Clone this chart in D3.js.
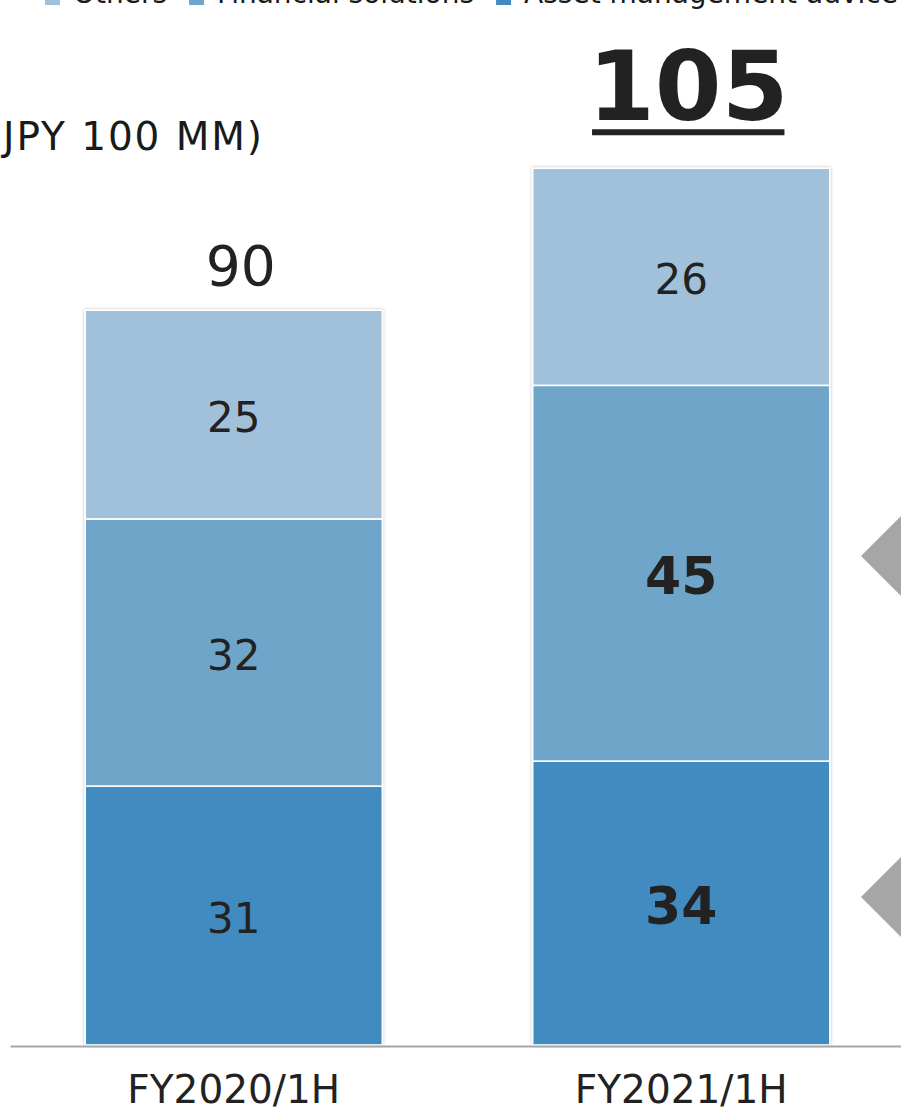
<!DOCTYPE html>
<html>
<head>
<meta charset="utf-8">
<script src="https://cdn.jsdelivr.net/npm/d3@7"></script>
<style>
  html, body { margin: 0; padding: 0; background: #fff; }
  svg { display: block; font-family: "DejaVu Sans", Verdana, sans-serif; }
</style>
</head>
<body>
<svg id="chart" width="901" height="1109"></svg>
<script>
// Half-year revenue breakdown (JPY 100 MM)
const categories = ["FY2020/1H", "FY2021/1H"];
const seriesNames = ["Asset management advice", "Financial solutions", "Others"];
const legendOrder = ["Others", "Financial solutions", "Asset management advice"];
const assetManagement = [31, 34];
const financialSolutions = [32, 45];
const others = [25, 26];
const totals = [90, 105];
const unitLabel = "(JPY 100 MM)";
// Series shown in bold for the latest period
const highlightPeriod = "FY2021/1H";
const highlightSeries = ["Asset management advice", "Financial solutions"];

const colors = {
  "Asset management advice": "#438bc0",
  "Financial solutions": "#6fa5ca",
  "Others": "#a1c1db"
};

const baseY = 1045;
const svg = d3.select("#chart");

const rows = categories.map((c, i) => ({
  category: c,
  "Asset management advice": assetManagement[i],
  "Financial solutions": financialSolutions[i],
  "Others": others[i],
  total: totals[i]
}));

const x = d3.scaleBand().domain(categories).range([10, 905])
  .paddingInner(0.336).paddingOuter(0.168);
const y = d3.scaleLinear().domain([0, 120]).range([baseY, baseY - 120 * 8.35]);

const stacked = d3.stack().keys(seriesNames)(rows);

// soft shadow around the bars
const defs = svg.append("defs");
const f = defs.append("filter").attr("id", "barShadow")
  .attr("x", "-5%").attr("y", "-5%").attr("width", "110%").attr("height", "110%");
f.append("feDropShadow").attr("dx", 0).attr("dy", 0).attr("stdDeviation", 1.8)
  .attr("flood-color", "#000").attr("flood-opacity", 0.32);

// legend (runs off the top edge)
const legend = svg.append("g").attr("class", "legend");
let lx = 45;
legendOrder.forEach(name => {
  legend.append("rect").attr("x", lx).attr("y", -10).attr("width", 15).attr("height", 15)
    .attr("fill", colors[name]);
  const t = legend.append("text").attr("x", lx + 28).attr("y", 3)
    .attr("font-size", 28).attr("fill", "#1a1a1a").text(name);
  lx += 28 + t.node().getComputedTextLength() + 22;
});

// unit label (its opening bracket runs off the left edge)
svg.append("text").attr("x", -14).attr("y", 150)
  .attr("font-size", 39).attr("fill", "#1a1a1a")
  .attr("textLength", 276).attr("lengthAdjust", "spacing")
  .text(unitLabel);

// stacked bars
const barsG = svg.append("g").attr("filter", "url(#barShadow)");
stacked.forEach(layer => {
  barsG.selectAll(null).data(layer).join("rect")
    .attr("x", d => x(d.data.category))
    .attr("width", x.bandwidth())
    .attr("y", d => y(d[1]))
    .attr("height", d => y(d[0]) - y(d[1]))
    .attr("fill", colors[layer.key])
    .attr("stroke", "#fff")
    .attr("stroke-width", 1.6);
});

// segment value labels
const isBold = (cat, key) => cat === highlightPeriod && highlightSeries.includes(key);
stacked.forEach(layer => {
  svg.append("g").selectAll("text").data(layer).join("text")
    .attr("x", d => x(d.data.category) + x.bandwidth() / 2)
    .attr("y", d => (y(d[0]) + y(d[1])) / 2 + 2)
    .attr("dy", "0.36em")
    .attr("text-anchor", "middle")
    .attr("fill", "#222")
    .attr("font-size", d => isBold(d.data.category, layer.key) ? 52 : 42)
    .attr("font-weight", d => isBold(d.data.category, layer.key) ? "bold" : "normal")
    .text(d => d[1] - d[0]);
});

// axis baseline and period labels
const axis = svg.append("g").attr("transform", `translate(0,${baseY + 1})`)
  .call(d3.axisBottom(x).tickSize(0).tickPadding(29));
axis.select(".domain").attr("stroke", "#a6a6a6").attr("stroke-width", 2);
axis.selectAll("text").attr("font-size", 39).attr("fill", "#222")
  .attr("font-family", "DejaVu Sans, Verdana, sans-serif");

// totals above each bar; the latest period is emphasised and underlined
rows.forEach(r => {
  const top = y(d3.sum(seriesNames, k => r[k]));
  const isLatest = r.category === highlightPeriod;
  const size = isLatest ? 96 : 55;
  const t = svg.append("text")
    .attr("x", x(r.category) + x.bandwidth() / 2 + 7)
    .attr("y", top - (isLatest ? 48 : 25))
    .attr("text-anchor", "middle")
    .attr("font-size", size)
    .attr("font-weight", isLatest ? "bold" : "normal")
    .attr("fill", "#222")
    .text(r.total);
  if (isLatest) {
    const bb = t.node().getBBox();
    svg.append("rect").attr("x", bb.x + 4).attr("width", bb.width - 8)
      .attr("y", top - 48 + 9).attr("height", 6).attr("fill", "#222");
  }
});

// pointer markers at the right edge
const markerTips = [556, 897];
svg.append("g").selectAll("path").data(markerTips).join("path")
  .attr("d", c => `M861,${c} L921,${c - 60} L921,${c + 60} Z`)
  .attr("fill", "#a6a6a6");
</script>
</body>
</html>
